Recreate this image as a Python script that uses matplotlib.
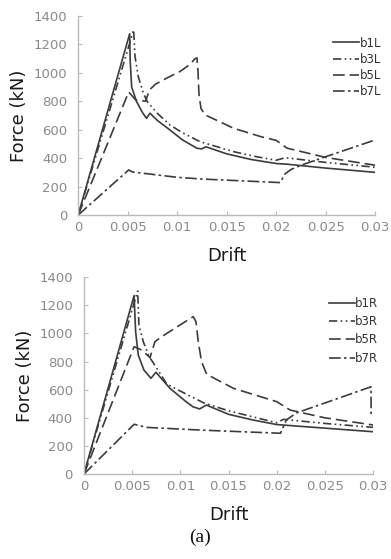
import matplotlib
matplotlib.use("Agg")
import matplotlib.pyplot as plt

# drift / force data (kN)
b1L_x = [0, 0.0052, 0.00525, 0.0054, 0.0059, 0.0065, 0.0069, 0.00725, 0.008, 0.00927, 0.0105, 0.01197, 0.01247, 0.0129, 0.015, 0.0175, 0.02, 0.021, 0.025, 0.03]
b1L_y = [0, 1275, 1090, 900, 797, 720, 680, 716, 665, 598, 530, 470, 465, 480, 430, 390, 362, 358, 330, 300]
b3L_x = [0, 0.0056, 0.00574, 0.00607, 0.00658, 0.007, 0.008, 0.00927, 0.0105, 0.0123, 0.01567, 0.018, 0.02, 0.0209, 0.025, 0.03]
b3L_y = [0, 1302, 1114, 973, 856, 795, 715, 633, 580, 516, 446, 410, 385, 403, 370, 336]
b5L_x = [0, 0.0051, 0.0058, 0.0068, 0.0072, 0.0078, 0.009, 0.0103, 0.0113, 0.0118, 0.012, 0.0121, 0.0122, 0.0124, 0.0128, 0.0157, 0.0185, 0.02, 0.0211, 0.025, 0.03]
b5L_y = [0, 865, 810, 800, 880, 920, 965, 1010, 1060, 1100, 1105, 1010, 850, 750, 705, 610, 550, 525, 470, 405, 350]
b7L_x = [0, 0.0051, 0.0055, 0.007, 0.01, 0.0125, 0.015, 0.0204, 0.0209, 0.0215, 0.0225, 0.025, 0.03]
b7L_y = [0, 317, 302, 290, 265, 253, 245, 228, 290, 320, 350, 410, 528]

b1R_x = [0, 0.0052, 0.00536, 0.00563, 0.00622, 0.00695, 0.00747, 0.00892, 0.0105, 0.0113, 0.012, 0.0127, 0.015, 0.0175, 0.02, 0.03]
b1R_y = [0, 1270, 1013, 847, 740, 681, 724, 610, 520, 479, 463, 491, 425, 385, 352, 301]
b3R_x = [0, 0.00557, 0.0057, 0.00615, 0.00677, 0.0072, 0.0086, 0.01, 0.0124, 0.015, 0.02, 0.0207, 0.025, 0.03]
b3R_y = [0, 1302, 1060, 942, 835, 790, 640, 590, 507, 450, 365, 389, 360, 332]
b5R_x = [0, 0.0052, 0.006, 0.00685, 0.00737, 0.00806, 0.0095, 0.01134, 0.01162, 0.01186, 0.0122, 0.01273, 0.0155, 0.02, 0.0214, 0.025, 0.03]
b5R_y = [0, 906, 882, 828, 942, 977, 1040, 1120, 1084, 942, 800, 710, 610, 515, 455, 400, 349]
b7R_x = [0, 0.0052, 0.0065, 0.012, 0.0204, 0.021, 0.0221, 0.0259, 0.0298, 0.0298]
b7R_y = [0, 354, 332, 313, 290, 385, 436, 527, 621, 408]

x_ticks = [0, 0.005, 0.01, 0.015, 0.02, 0.025, 0.03]
x_labels = ["0", "0.005", "0.01", "0.015", "0.02", "0.025", "0.03"]
y_ticks = [0, 200, 400, 600, 800, 1000, 1200, 1400]

styles = ["-", (0, (5, 2, 1, 2, 1, 2)), (0, (7, 3)), (0, (7, 2, 1.5, 2))]
narrow = ["Liberation Sans Narrow", "DejaVu Sans Condensed", "DejaVu Sans"]
lc = "#3c3c3c"

fig = plt.figure(figsize=(3.91, 5.59), dpi=100)
top = fig.add_axes([0.200, 0.6154, 0.7596, 0.356])
bot = fig.add_axes([0.2148, 0.152, 0.7392, 0.352])

panels = [
    (top, [(b1L_x, b1L_y), (b3L_x, b3L_y), (b5L_x, b5L_y), (b7L_x, b7L_y)],
     ["b1L", "b3L", "b5L", "b7L"], 0.95, 0.28),
    (bot, [(b1R_x, b1R_y), (b3R_x, b3R_y), (b5R_x, b5R_y), (b7R_x, b7R_y)],
     ["b1R", "b3R", "b5R", "b7R"], 0.955, 0.45),
]

for ax, series, names, ly, sp in panels:
    for (xs, ys), ls, nm in zip(series, styles, names):
        ax.plot(xs, ys, color=lc, lw=1.2, linestyle=ls, label=nm)
    ax.set_xlim(0, 0.03)
    ax.set_ylim(0, 1400)
    ax.set_xticks(x_ticks)
    ax.set_xticklabels(x_labels)
    ax.set_yticks(y_ticks)
    for s in ["top", "right"]:
        ax.spines[s].set_visible(False)
    for s in ["left", "bottom"]:
        ax.spines[s].set_color("#bbbbbb")
        ax.spines[s].set_linewidth(1.0)
    ax.tick_params(direction="in", length=3, color="#bbbbbb", labelcolor="#8a8a8a",
                   labelsize=9.5)
    ax.tick_params(axis="y", pad=8)
    ax.tick_params(axis="x", pad=4)
    for t in ax.get_xticklabels() + ax.get_yticklabels():
        t.set_family(["DejaVu Sans"])
    ax.set_xlabel("Drift", family=narrow, fontsize=13, color="#1a1a1a", labelpad=10)
    ax.set_ylabel("Force (kN)", family=narrow, fontsize=13, color="#1a1a1a", labelpad=4)
    leg = ax.legend(loc="upper right", bbox_to_anchor=(1.055, ly), frameon=False,
                    handlelength=2.2, handletextpad=0.0, labelspacing=sp,
                    prop={"family": narrow, "size": 8.5})
    for t in leg.get_texts():
        t.set_color("#333333")

fig.text(0.512, 0.038, "(a)", family=["Liberation Serif", "DejaVu Serif"], fontsize=14,
         ha="center", va="center", color="#111111")

fig.savefig("out.png", dpi=100)
